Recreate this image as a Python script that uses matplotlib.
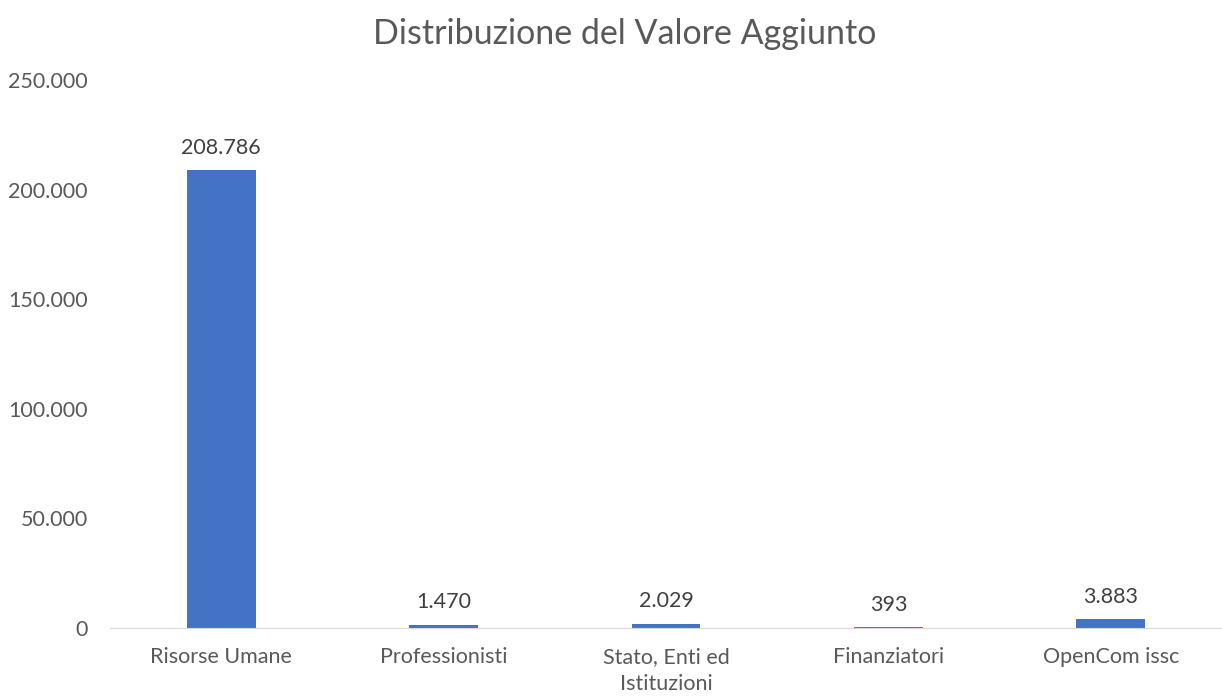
import matplotlib.pyplot as plt
from matplotlib.ticker import FuncFormatter, MultipleLocator

# data
categorie = ["Risorse Umane", "Professionisti", "Stato, Enti ed\nIstituzioni", "Finanziatori", "OpenCom issc"]
valori = [208786, 1470, 2029, 393, 3883]
etichette = ["208.786", "1.470", "2.029", "393", "3.883"]

plt.rcParams['font.family'] = ['Lato', 'DejaVu Sans']

fig = plt.figure(figsize=(12.22, 6.97), dpi=100)
ax = fig.add_axes([0.09, 0.099, 0.91, 0.786])

x = range(len(categorie))
bars = ax.bar(x, valori, width=0.31, color='#4472C4', zorder=2)

for b, lab in zip(bars, etichette):
    ax.annotate(lab, (b.get_x() + b.get_width() / 2, b.get_height()),
                xytext=(0, 9), textcoords='offset points',
                ha='center', va='bottom', fontsize=15.5, color='#404040')

ax.set_xlim(-0.5, len(categorie) - 0.5)
ax.set_ylim(0, 250000)
ax.yaxis.set_major_locator(MultipleLocator(50000))
ax.yaxis.set_major_formatter(FuncFormatter(lambda v, p: f"{int(v):,}".replace(",", ".")))
ax.set_xticks(list(x))
ax.set_xticklabels(categorie, linespacing=1.4)

for s in ['top', 'right', 'left']:
    ax.spines[s].set_visible(False)
ax.spines['bottom'].set_color('#D9D9D9')
ax.tick_params(axis='both', length=0, labelsize=15.5, colors='#595959')
ax.tick_params(axis='x', pad=14)
ax.tick_params(axis='y', pad=16)

fig.suptitle("Distribuzione del Valore Aggiunto", fontsize=24.5, color='#595959',
             x=0.511, y=0.974)

plt.savefig('out.png', dpi=100)
